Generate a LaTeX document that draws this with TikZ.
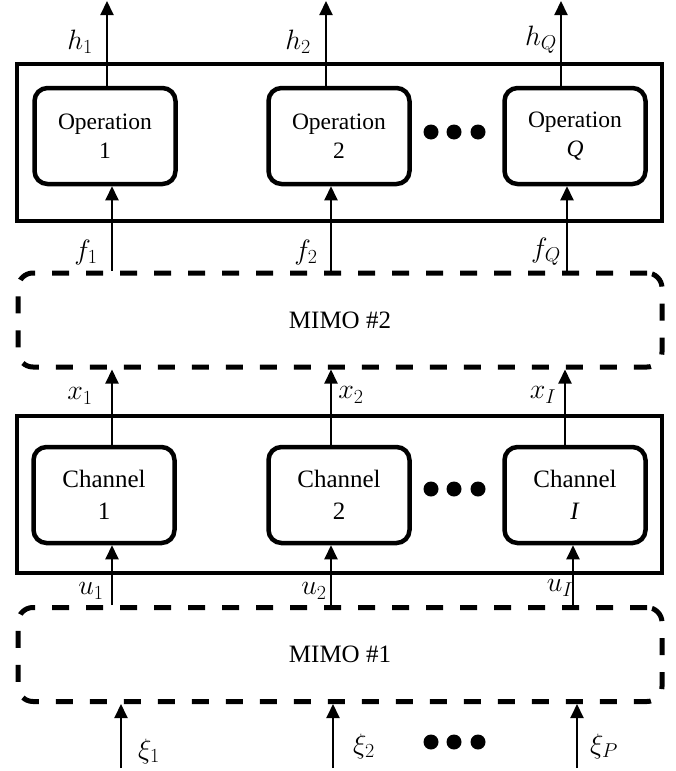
\documentclass[tikz,border=0pt]{standalone}
\usepackage{fix-cm}
\usepackage{fontspec}
\setmainfont{Liberation Serif}
\usetikzlibrary{arrows.meta}
\DeclareMathSizes{28}{28}{20}{14}
\begin{document}
\begin{tikzpicture}[x=1pt,y=-1pt,
  outer/.style={draw,line width=4pt,minimum width=645pt,minimum height=157pt,inner sep=0pt},
  blk/.style={draw,line width=4.5pt,rounded corners=13pt,minimum width=141pt,minimum height=96pt,align=center,inner sep=0pt},
  opfont/.style={font=\fontsize{23.5}{29}\selectfont},
  chfont/.style={font=\fontsize{25}{32}\selectfont},
  mimo/.style={draw,dash pattern=on 17pt off 17pt,line width=5pt,rounded corners=15pt,minimum width=644pt,minimum height=94pt,inner sep=0pt,font=\fontsize{25}{30}\selectfont},
  arr/.style={line width=2pt,-{Triangle[width=13pt,length=14pt]}},
  lab/.style={font=\fontsize{28}{32}\selectfont,inner sep=0pt},
  dot/.style={circle,fill,inner sep=0pt,minimum size=15pt}
]
\useasboundingbox (0,0) rectangle (675,771);

% top block
\node[outer] (topbox) at (339.5,142.5) {};
\node[blk,opfont] (op1) at (105,136) {Operation\\1};
\node[blk,opfont] (op2) at (339,136) {Operation\\2};
\node[blk,opfont] (opQ) at (575,136) {Operation\\\textit{Q}};
\node[dot] (da1) at (431,132) {};
\node[dot] (da2) at (454,132) {};
\node[dot] (da3) at (478,132) {};

% MIMO 2
\node[mimo] (mimo2) at (340,320) {MIMO \#2};

% channel block
\node[outer] (chbox) at (339.5,494.5) {};
\node[blk,chfont] (ch1) at (104,495) {Channel\\1};
\node[blk,chfont] (ch2) at (339,495) {Channel\\2};
\node[blk,chfont] (chI) at (575,495) {Channel\\\textit{I}};
\node[dot] (db1) at (431,489) {};
\node[dot] (db2) at (454,489) {};
\node[dot] (db3) at (478,489) {};

% MIMO 1
\node[mimo] (mimo1) at (340,654.5) {MIMO \#1};

% bottom dots
\node[dot] (dc1) at (431,742) {};
\node[dot] (dc2) at (454,742) {};
\node[dot] (dc3) at (478,742) {};

% coordinates for arrow columns
\coordinate (h1) at (107,1);
\coordinate (h2) at (326,1);
\coordinate (hQ) at (561,1);
\coordinate (f1) at (112,0);
\coordinate (f2) at (331,0);
\coordinate (fQ) at (567,0);
\coordinate (x1) at (112,0);
\coordinate (x2) at (331,0);
\coordinate (xI) at (565,0);
\coordinate (u1) at (112,0);
\coordinate (u2) at (331,0);
\coordinate (uI) at (573,0);
\coordinate (p1) at (121,768);
\coordinate (p2) at (333,768);
\coordinate (pP) at (577,768);

% arrows
\draw[arr] (op1.north -| h1) -- (h1);
\draw[arr] (op2.north -| h2) -- (h2);
\draw[arr] (opQ.north -| hQ) -- (hQ);
\draw[arr] (mimo2.north -| f1) -- (op1.south -| f1);
\draw[arr] (mimo2.north -| f2) -- (op2.south -| f2);
\draw[arr] (mimo2.north -| fQ) -- (opQ.south -| fQ);
\draw[arr] (ch1.north -| x1) -- (mimo2.south -| x1);
\draw[arr] (ch2.north -| x2) -- (mimo2.south -| x2);
\draw[arr] (chI.north -| xI) -- (mimo2.south -| xI);
\draw[arr] (mimo1.north -| u1) -- (ch1.south -| u1);
\draw[arr] (mimo1.north -| u2) -- (ch2.south -| u2);
\draw[arr] (mimo1.north -| uI) -- (chI.south -| uI);
\draw[arr] (p1) -- (mimo1.south -| p1);
\draw[arr] (p2) -- (mimo1.south -| p2);
\draw[arr] (pP) -- (mimo1.south -| pP);

% labels
\node[lab] (lh1) at (80,42) {$h_1$};
\node[lab] (lh2) at (298,42) {$h_2$};
\node[lab] (lhQ) at (541,40) {$h_Q$};
\node[lab] (lf1) at (86,252) {$f_1$};
\node[lab] (lf2) at (306,252) {$f_2$};
\node[lab] (lfQ) at (546,252) {$f_Q$};
\node[lab] (lx1) at (80,396) {$x_1$};
\node[lab] (lx2) at (351,395) {$x_2$};
\node[lab] (lxI) at (543,395) {$x_I$};
\node[lab] (lu1) at (91,591) {$u_1$};
\node[lab] (lu2) at (314,591) {$u_2$};
\node[lab] (luI) at (560,588) {$u_I$};
\node[lab] (lp1) at (149,751) {$\xi_1$};
\node[lab] (lp2) at (364,746) {$\xi_2$};
\node[lab] (lpP) at (604,746) {$\xi_P$};
\end{tikzpicture}
\end{document}
